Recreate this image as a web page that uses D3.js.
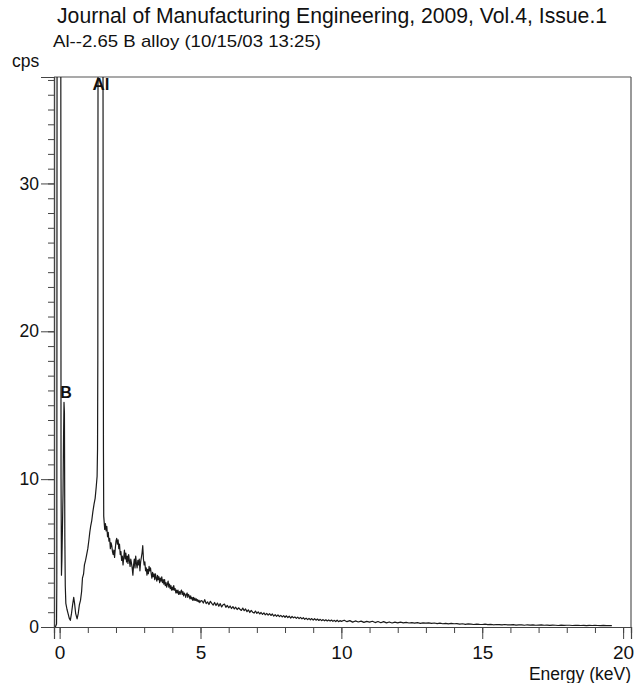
<!DOCTYPE html>
<html>
<head>
<meta charset="utf-8">
<script src="https://cdn.jsdelivr.net/npm/d3@7"></script>
<style>
  html, body { margin: 0; padding: 0; background: #fff; }
  svg { display: block; }
  text { font-family: Arial, "Liberation Sans", Helvetica, sans-serif; fill: #111; }
</style>
</head>
<body>
<svg id="chart" width="642" height="683"></svg>
<script>
// ---------- data ----------
const title = "Journal of Manufacturing Engineering, 2009, Vol.4, Issue.1";
const subtitle = "Al--2.65 B alloy (10/15/03 13:25)";
const yUnit = "cps";
const xLabel = "Energy (keV)";

const xMajorTicks = [0, 5, 10, 15, 20];
const xMinorTicks = [0,1,2,3,4,5,6,7,8,9,10,11,12,13,14,15,16,17,18,19,20];
const yMajorTicks = [0, 10, 20, 30];
const yMinorTicks = [0,1,2,3,4,5,6,7,8,9,10,11,12,13,14,15,16,17,18,19,20,21,22,23,24,25,26,27,28,29,30,31,32,33,34,35,36,37];

const peakNames = ["B", "Al"];
const peakEnergies = [0.2, 1.45];

// spectrum: energy (keV) and counts (cps)
const energy = [
  // low-energy region with noise peak, B peak and Al peak
  -0.15,-0.11,-0.10,-0.09,0.00,0.04,0.05,0.065,0.08,0.12,0.14,0.155,0.17,0.185,0.20,0.22,0.26,0.30,0.34,0.38,
  0.42,0.46,0.50,0.53,0.57,0.62,0.66,0.70,0.74,0.78,0.81,0.85,0.88,0.92,0.96,1.00,1.04,1.07,1.10,1.14,
  1.18,1.22,1.26,1.30,1.33,1.345,1.355,1.365,1.45,1.535,1.545,1.555,1.565,
  // 1.6 - 5.0 keV
  1.600,1.625,1.650,1.675,1.700,1.725,1.750,1.775,1.800,1.825,1.850,1.875,1.900,1.925,1.950,1.975,
  2.000,2.025,2.050,2.075,2.100,2.125,2.150,2.175,2.200,2.225,2.250,2.275,2.300,2.325,2.350,2.375,2.400,2.425,2.450,2.475,
  2.500,2.525,2.550,2.575,2.600,2.625,2.650,2.675,2.700,2.725,2.750,2.775,2.800,2.825,2.850,2.875,2.900,2.925,2.950,2.975,
  3.000,3.025,3.050,3.075,3.100,3.125,3.150,3.175,3.200,3.225,3.250,3.275,3.300,3.325,3.350,3.375,3.400,3.425,3.450,3.475,
  3.500,3.525,3.550,3.575,3.600,3.625,3.650,3.675,3.700,3.725,3.750,3.775,3.800,3.825,3.850,3.875,3.900,3.925,3.950,3.975,
  4.000,4.025,4.050,4.075,4.100,4.125,4.150,4.175,4.200,4.225,4.250,4.275,4.300,4.325,4.350,4.375,4.400,4.425,4.450,4.475,
  4.500,4.525,4.550,4.575,4.600,4.625,4.650,4.675,4.700,4.725,4.750,4.775,4.800,4.825,4.850,4.875,4.900,4.925,4.950,4.975,
  5.000,
  // 5 - 10 keV
  5.05,5.10,5.15,5.20,5.25,5.30,5.35,5.40,5.45,5.50,
  5.55,5.60,5.65,5.70,5.75,5.80,5.85,5.90,5.95,6.00,
  6.05,6.10,6.15,6.20,6.25,6.30,6.35,6.40,6.45,6.50,
  6.55,6.60,6.65,6.70,6.75,6.80,6.85,6.90,6.95,7.00,
  7.05,7.10,7.15,7.20,7.25,7.30,7.35,7.40,7.45,7.50,
  7.55,7.60,7.65,7.70,7.75,7.80,7.85,7.90,7.95,8.00,
  8.05,8.10,8.15,8.20,8.25,8.30,8.35,8.40,8.45,8.50,
  8.55,8.60,8.65,8.70,8.75,8.80,8.85,8.90,8.95,9.00,
  9.05,9.10,9.15,9.20,9.25,9.30,9.35,9.40,9.45,9.50,
  9.55,9.60,9.65,9.70,9.75,9.80,9.85,9.90,9.95,10.00,
  // 10 - 19.6 keV
  10.1,10.2,10.3,10.4,10.5,10.6,10.7,10.8,10.9,11.0,
  11.1,11.2,11.3,11.4,11.5,11.6,11.7,11.8,11.9,12.0,
  12.1,12.2,12.3,12.4,12.5,12.6,12.7,12.8,12.9,13.0,
  13.1,13.2,13.3,13.4,13.5,13.6,13.7,13.8,13.9,14.0,
  14.1,14.2,14.3,14.4,14.5,14.6,14.7,14.8,14.9,15.0,
  15.1,15.2,15.3,15.4,15.5,15.6,15.7,15.8,15.9,16.0,
  16.1,16.2,16.3,16.4,16.5,16.6,16.7,16.8,16.9,17.0,
  17.1,17.2,17.3,17.4,17.5,17.6,17.7,17.8,17.9,18.0,
  18.1,18.2,18.3,18.4,18.5,18.6,18.7,18.8,18.9,19.0,
  19.1,19.2,19.3,19.4,19.5,19.6
];
const counts = [
  0,0.2,3,45,200,45,10,3.5,4.5,9,13,15.2,14.5,6,2.8,1.6,1.2,0.9,0.6,0.45,
  0.9,1.5,2.0,1.6,0.9,0.55,0.9,1.5,1.8,2.4,3.3,3.6,4.2,4.5,4.9,5.3,5.9,6.4,6.8,7.2,
  7.8,8.3,8.7,9.5,10.2,12,18,45,200,45,28,12,7.5,
  6.6,7.0,6.5,6.8,6.1,6.4,5.8,6.0,5.3,5.7,5.5,5.1,4.9,5.2,4.7,5.3,
  5.8,6.0,5.6,5.9,5.3,5.6,4.9,5.1,4.5,4.8,4.2,4.7,5.2,4.6,5.0,4.4,4.8,4.3,4.9,4.5,
  4.1,4.6,4.3,4.0,3.5,4.2,4.6,4.0,4.8,4.3,4.0,4.5,4.2,4.6,3.8,4.4,4.7,5.0,5.5,4.6,
  4.2,4.4,3.8,4.0,3.5,3.9,3.6,4.1,3.8,4.0,3.6,3.3,3.7,3.4,3.6,3.2,3.6,3.3,3.1,3.5,
  3.2,3.4,3.0,3.3,3.1,3.4,3.0,3.2,2.9,3.2,2.8,3.0,2.7,2.9,3.1,2.7,2.9,2.6,2.8,2.5,
  2.7,2.5,2.8,2.5,2.6,2.3,2.5,2.3,2.5,2.2,2.4,2.2,2.4,2.5,2.2,2.4,2.1,2.3,2.2,2.0,
  2.2,2.3,2.0,2.2,2.1,1.9,2.1,1.9,2.0,1.8,2.0,1.8,1.95,1.8,1.9,1.75,1.85,1.7,1.8,1.65,
  1.75,
  1.78,1.62,1.85,1.58,1.7,1.52,1.74,1.6,1.48,1.66,
  1.45,1.62,1.4,1.58,1.36,1.5,1.55,1.33,1.46,1.3,
  1.42,1.25,1.38,1.22,1.34,1.18,1.3,1.2,1.12,1.28,
  1.1,1.22,1.04,1.16,0.98,1.12,1.0,0.94,1.08,0.92,
  1.02,0.88,0.98,0.85,0.96,0.82,0.92,0.8,0.9,0.78,
  0.88,0.74,0.84,0.72,0.82,0.7,0.79,0.68,0.77,0.66,
  0.76,0.64,0.73,0.6,0.71,0.62,0.68,0.58,0.67,0.57,
  0.65,0.55,0.63,0.52,0.6,0.5,0.58,0.49,0.57,0.47,
  0.56,0.46,0.54,0.44,0.52,0.43,0.5,0.42,0.49,0.41,
  0.48,0.4,0.47,0.38,0.45,0.37,0.46,0.36,0.43,0.38,
  0.46,0.36,0.43,0.33,0.41,0.34,0.4,0.31,0.38,0.33,
  0.39,0.3,0.37,0.29,0.36,0.28,0.34,0.27,0.33,0.28,
  0.33,0.28,0.31,0.27,0.3,0.26,0.29,0.25,0.28,0.26,
  0.28,0.24,0.27,0.23,0.26,0.22,0.25,0.21,0.24,0.22,
  0.23,0.2,0.22,0.18,0.21,0.19,0.17,0.2,0.18,0.17,
  0.19,0.16,0.18,0.15,0.17,0.16,0.14,0.17,0.15,0.14,
  0.16,0.13,0.15,0.14,0.12,0.15,0.13,0.14,0.12,0.13,
  0.14,0.12,0.13,0.11,0.13,0.12,0.1,0.13,0.11,0.12,
  0.12,0.1,0.11,0.12,0.1,0.11,0.09,0.11,0.1,0.11,
  0.1,0.09,0.11,0.09,0.1,0.09
];

// ---------- layout ----------
const plotLeft = 54, plotRight = 631, plotTop = 77, plotBottom = 627;
const svg = d3.select("#chart");

const x = d3.scaleLinear().domain([-0.2, 20.28]).range([plotLeft, plotRight]);
const y = d3.scaleLinear().domain([0, 37.2]).range([plotBottom, plotTop]);

// titles
svg.append("text").attr("x", 57).attr("y", 23).attr("font-size", 21.2).text(title);
svg.append("text").attr("x", 53).attr("y", 46.5).attr("font-size", 17)
  .attr("textLength", 268).attr("lengthAdjust", "spacingAndGlyphs").text(subtitle);
svg.append("text").attr("x", 12).attr("y", 66.5).attr("font-size", 17.5).text(yUnit);

// frame (top and right)
svg.append("line").attr("x1", plotLeft).attr("x2", plotRight).attr("y1", plotTop).attr("y2", plotTop)
  .attr("stroke", "#555").attr("stroke-width", 1.2);
svg.append("line").attr("x1", plotRight).attr("x2", plotRight).attr("y1", plotTop).attr("y2", plotBottom)
  .attr("stroke", "#555").attr("stroke-width", 1.2);

// axes
const axisColor = "#444";
const yMinor = svg.append("g").attr("transform", `translate(${plotLeft},0)`)
  .call(d3.axisLeft(y).tickValues(yMinorTicks).tickSize(6).tickFormat(""));
const yMajor = svg.append("g").attr("transform", `translate(${plotLeft},0)`)
  .call(d3.axisLeft(y).tickValues(yMajorTicks).tickSize(13).tickPadding(2).tickFormat(d3.format("d")));
const xMinor = svg.append("g").attr("transform", `translate(0,${plotBottom})`)
  .call(d3.axisBottom(x).tickValues(xMinorTicks).tickSize(6).tickFormat(""));
const xMajor = svg.append("g").attr("transform", `translate(0,${plotBottom})`)
  .call(d3.axisBottom(x).tickValues(xMajorTicks).tickSize(12).tickPadding(7).tickFormat(d3.format("d")));

[yMinor, yMajor, xMinor, xMajor].forEach(g => {
  g.selectAll("path").attr("stroke", axisColor).attr("stroke-width", 1.2);
  g.selectAll("line").attr("stroke", axisColor).attr("stroke-width", 1);
});
yMajor.selectAll("text").attr("font-size", 17.5).attr("font-family", "Arial, 'Liberation Sans', sans-serif").attr("fill", "#111");
xMajor.selectAll("text").attr("font-size", 19).attr("font-family", "Arial, 'Liberation Sans', sans-serif").attr("fill", "#111");

// x label
svg.append("text").attr("x", plotRight).attr("y", 680).attr("text-anchor", "end")
  .attr("font-size", 17.5).text(xLabel);

// clip
svg.append("clipPath").attr("id", "plotclip").append("rect")
  .attr("x", plotLeft).attr("y", plotTop).attr("width", plotRight - plotLeft).attr("height", plotBottom - plotTop);

const pts = energy.map((e, i) => ({ e, c: counts[i] }));
const line = d3.line().x(d => x(d.e)).y(d => y(d.c));
svg.append("path").datum(pts)
  .attr("clip-path", "url(#plotclip)")
  .attr("d", line)
  .attr("fill", "none")
  .attr("stroke", "#1a1a1a")
  .attr("stroke-width", 1.2)
  .attr("stroke-linejoin", "round");

// peak labels
svg.append("text").attr("x", x(peakEnergies[0]) - 5).attr("y", 398).attr("font-size", 16)
  .attr("font-weight", "bold").attr("fill", "#222").text(peakNames[0]);
svg.append("text").attr("x", x(peakEnergies[1]) - 8).attr("y", 90).attr("font-size", 17)
  .attr("font-weight", "bold").attr("fill", "#222").text(peakNames[1]);
</script>
</body>
</html>
